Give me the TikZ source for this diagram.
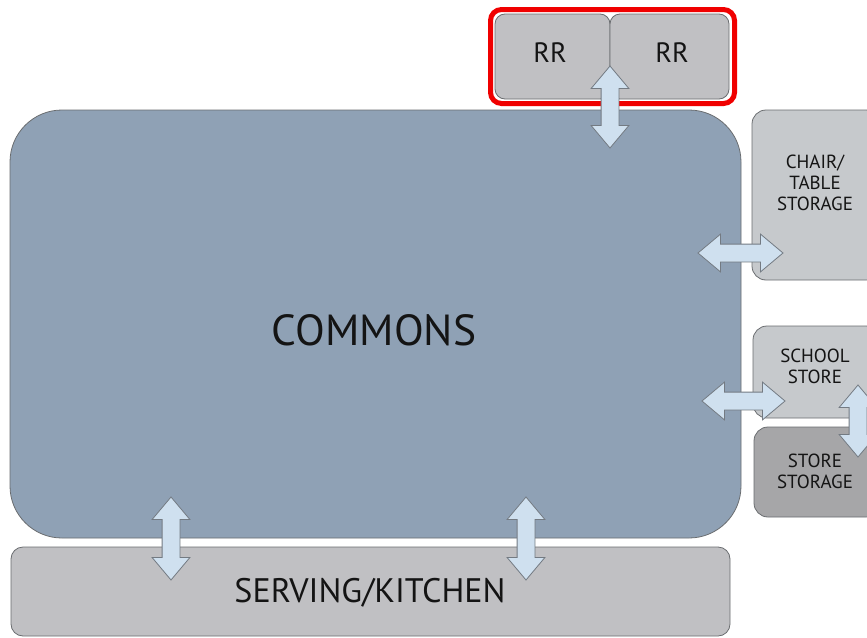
\documentclass[tikz,border=0pt]{standalone}
\usepackage{fontspec}
\setmainfont{PT Sans}
\usetikzlibrary{shapes.arrows}
\definecolor{commonsfill}{HTML}{8FA1B5}
\definecolor{boxgray}{HTML}{C0C0C3}
\definecolor{lightgray2}{HTML}{C6C9CC}
\definecolor{darkgray2}{HTML}{A6A6A8}
\definecolor{edge}{HTML}{6A6D70}
\definecolor{arrowfill}{HTML}{CFE0EF}
\definecolor{arrowedge}{HTML}{737A82}
\definecolor{txt}{HTML}{141414}
\definecolor{frame}{HTML}{F00000}
\tikzset{
  room/.style={draw=edge, line width=0.8pt, rounded corners=14pt, rectangle, inner sep=0pt},
  roomlabel/.style={text=txt, align=center, inner sep=0pt, font=\fontsize{19}{21}\selectfont},
  fatarrow/.style={double arrow, draw=arrowedge, fill=arrowfill, line width=0.8pt,
    inner sep=0pt, minimum width=37pt, double arrow head extend=10pt,
    double arrow tip angle=80, text width=0pt, text height=17pt, text depth=0pt},
}
\begin{document}
\begin{tikzpicture}[x=1pt,y=-1pt]
\clip (0,0) rectangle (867,637);
\fill[white] (0,0) rectangle (867,637);
% rooms
\node[room, fill=commonsfill, rounded corners=52pt, minimum width=731pt, minimum height=428pt] (commons) at (375.5,324) {};
\node[room, fill=boxgray, rounded corners=12pt, minimum width=719pt, minimum height=89pt] (serving) at (370.5,591.5) {};
\node[room, fill=boxgray, rounded corners=10pt, minimum width=115pt, minimum height=85pt] (rr1) at (552.5,56.5) {};
\node[room, fill=boxgray, rounded corners=10pt, minimum width=119pt, minimum height=85pt] (rr2) at (669.5,56.5) {};
\node[room, fill=lightgray2, minimum width=128pt, minimum height=170pt] (chair) at (816,195) {};
\node[room, fill=lightgray2, minimum width=127pt, minimum height=92pt] (store) at (816.5,372) {};
\node[room, fill=darkgray2, minimum width=126pt, minimum height=90pt] (storage) at (817,472) {};
% red frame
\node[draw=frame, line width=5pt, rounded corners=11pt, rectangle, inner sep=0pt,
  minimum width=244pt, minimum height=94pt] (rrframe) at (612.5,56.5) {};
% labels
\node[text=txt, inner sep=0pt, font=\fontsize{43.5}{43.5}\selectfont] (commonslabel) at (374,330) {COMMONS};
\node[text=txt, inner sep=0pt, font=\fontsize{34}{34}\selectfont] (servinglabel) at (370,593) {SERVING/KITCHEN};
\node[text=txt, inner sep=0pt, font=\fontsize{28}{28}\selectfont] (rr1label) at (550,53) {RR};
\node[text=txt, inner sep=0pt, font=\fontsize{28}{28}\selectfont] (rr2label) at (672,53) {RR};
\node[roomlabel] (chairlabel) at (815,183) {CHAIR/\\TABLE\\STORAGE};
\node[roomlabel] (storelabel) at (815,366) {SCHOOL\\STORE};
\node[roomlabel] (storagelabel) at (815,471) {STORE\\STORAGE};
% arrows
\node[fatarrow, minimum height=82pt, rotate=90] (arr1) at (610,107) {};
\node[fatarrow, minimum height=85pt] (arr2) at (740.5,253) {};
\node[fatarrow, minimum height=83pt] (arr3) at (743.5,401) {};
\node[fatarrow, minimum height=72pt, rotate=90] (arr4) at (858,421) {};
\node[fatarrow, minimum height=83pt, rotate=90] (arr5) at (171,538.5) {};
\node[fatarrow, minimum height=83pt, rotate=90] (arr6) at (526,538.5) {};
\end{tikzpicture}
\end{document}
